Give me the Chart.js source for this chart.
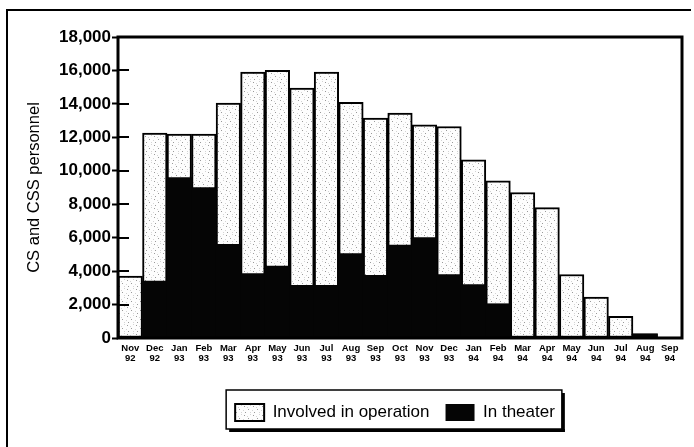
<!DOCTYPE html>
<html>
<head>
<meta charset="utf-8">
<script src="https://cdn.jsdelivr.net/npm/chart.js@4"></script>
<style>
html,body{margin:0;padding:0;background:#fff;}
#wrap{width:694px;height:447px;}
</style>
</head>
<body>
<div id="wrap"><canvas id="c" width="694" height="447"></canvas></div>
<script>
const months = ["Nov","Dec","Jan","Feb","Mar","Apr","May","Jun","Jul","Aug","Sep","Oct","Nov","Dec","Jan","Feb","Mar","Apr","May","Jun","Jul","Aug","Sep"];
const years  = ["92","92","93","93","93","93","93","93","93","93","93","93","93","93","94","94","94","94","94","94","94","94","94"];
const involvedInOperation = [3700,12250,12200,12200,14050,15900,16000,14950,15900,14100,13150,13450,12750,12650,10650,9400,8700,7800,3800,2450,1300,250,60];
const inTheater = [0,3400,9600,9000,5600,3850,4300,3150,3150,5050,3750,5550,6000,3800,3200,2050,0,0,0,0,0,250,0];
const yTicks = [0,2000,4000,6000,8000,10000,12000,14000,16000,18000];

const labels = months.map((m,i)=>[m, years[i]]);
const FONT = "'Liberation Sans', Arial, Helvetica, sans-serif";

function makeStipple(){
  const p = document.createElement('canvas');
  p.width = 9; p.height = 9;
  const g = p.getContext('2d');
  g.fillStyle = '#fdfdfd'; g.fillRect(0,0,9,9);
  g.fillStyle = '#9a9a9a';
  [[1,1],[5,4],[2,7]].forEach(([x,y])=>g.fillRect(x,y,1,1));
  g.fillStyle = '#d4d4d4';
  [[7,0],[0,5],[4,2],[7,7]].forEach(([x,y])=>g.fillRect(x,y,1,1));
  return document.getElementById('c').getContext('2d').createPattern(p,'repeat');
}
const stipple = makeStipple();

const framePlugin = {
  id: 'frame',
  beforeDraw(chart){
    const ctx = chart.ctx;
    ctx.save();
    ctx.fillStyle = '#fff';
    ctx.fillRect(0,0,chart.width,chart.height);
    ctx.strokeStyle = '#000';
    ctx.lineWidth = 2;
    ctx.beginPath();
    ctx.moveTo(7, chart.height);
    ctx.lineTo(7, 10);
    ctx.lineTo(chart.width-3, 10);
    ctx.stroke();
    ctx.restore();
  },
  afterLayout(chart){
    const lg = chart.legend;
    const dx = 395 - (lg.left + lg.right)/2;
    lg.left += dx; lg.right += dx;
  },
  afterDatasetsDraw(chart){
    const ctx = chart.ctx, a = chart.chartArea, y = chart.scales.y;
    ctx.save();
    ctx.strokeStyle = '#000';
    ctx.lineWidth = 2;
    y.ticks.forEach(t=>{
      const py = Math.round(y.getPixelForValue(t.value));
      if (t.value === 0 || t.value === 18000) return;
      ctx.beginPath();
      ctx.moveTo(a.left, py);
      ctx.lineTo(a.left + 11, py);
      ctx.stroke();
    });
    ctx.lineWidth = 3;
    ctx.strokeRect(a.left, a.top, a.right - a.left, a.bottom - a.top);
    ctx.restore();
  },
  afterDraw(chart){
    const lg = chart.legend;
    const ctx = chart.ctx;
    const p = lg.options.labels.padding;
    const w = lg.lineWidths[0] - p;
    const cx = (lg.left + lg.right)/2;
    const x0 = cx - w/2 - 9, x1 = cx + w/2 + 7;
    const y0 = lg.top + p - 14, y1 = lg.top + p + 25;
    ctx.save();
    ctx.fillStyle = '#000';
    ctx.fillRect(x0+3, y1, x1-x0, 3);
    ctx.fillRect(x1, y0+3, 3, y1-y0);
    ctx.strokeStyle = '#000';
    ctx.lineWidth = 1.5;
    ctx.strokeRect(x0, y0, x1-x0, y1-y0);
    ctx.restore();
  }
};

new Chart(document.getElementById('c'), {
  type: 'bar',
  data: {
    labels: labels,
    datasets: [
      {
        label: 'Involved in operation',
        data: involvedInOperation,
        backgroundColor: stipple,
        borderColor: '#000',
        borderWidth: 2,
        borderSkipped: false,
        categoryPercentage: 1,
        barPercentage: 1,
        order: 2
      },
      {
        label: 'In theater',
        data: inTheater,
        backgroundColor: '#050505',
        borderColor: '#050505',
        borderWidth: 0,
        categoryPercentage: 1,
        barPercentage: 1,
        order: 1
      }
    ]
  },
  plugins: [framePlugin],
  options: {
    responsive: false,
    animation: false,
    events: [],
    layout: { padding: { left: 0, right: 12, top: 37, bottom: 16 } },
    plugins: {
      legend: {
        position: 'bottom',
        labels: {
          boxWidth: 29,
          boxHeight: 17,
          padding: 16,
          color: '#000',
          font: { family: FONT, size: 17 },
          sort: (a,b)=>a.datasetIndex - b.datasetIndex
        }
      },
      tooltip: { enabled: false }
    },
    scales: {
      x: {
        stacked: true,
        grid: { display: false },
        border: { display: false },
        ticks: {
          color: '#000',
          font: { family: FONT, size: 9.5, weight: 'bold', lineHeight: 1.1 },
          padding: -3,
          maxRotation: 0,
          autoSkip: false
        },
        afterFit(s){ s.height = 50; }
      },
      y: {
        stacked: false,
        min: 0, max: 18000,
        afterBuildTicks(s){ s.ticks = yTicks.map(v=>({value:v})); },
        grid: { drawOnChartArea: false, tickLength: 6, tickWidth: 2, tickColor: '#000' },
        border: { display: false },
        ticks: {
          color: '#000',
          padding: 1,
          font: { family: FONT, size: 17, weight: 'bold' },
          callback: v => v.toLocaleString('en-US')
        },
        title: {
          display: true,
          text: 'CS and CSS personnel',
          color: '#000',
          font: { family: FONT, size: 16.5 },
          padding: { top: 25, bottom: 0 }
        },
        afterFit(s){ s.width = 118; }
      }
    }
  }
});
</script>
</body>
</html>
